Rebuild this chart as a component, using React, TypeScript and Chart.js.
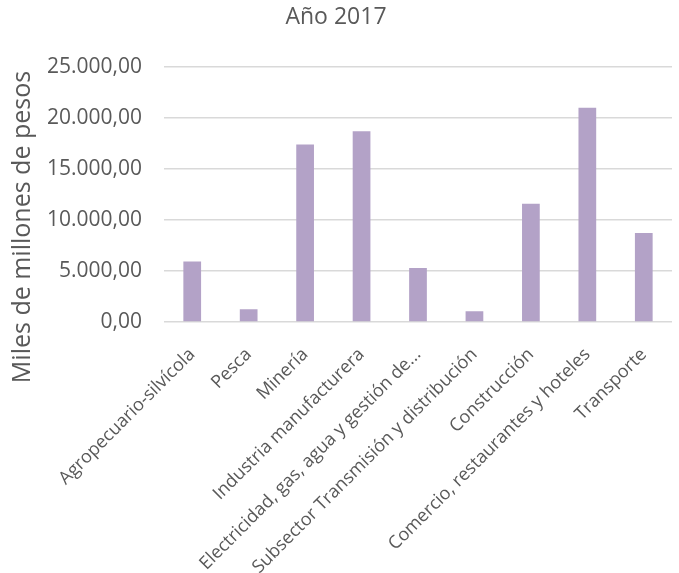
import React, { useEffect, useRef } from "react";
import { Chart, registerables } from "chart.js";

Chart.register(...registerables);

const chartTitle = "Año 2017";
const yAxisTitle = "Miles de millones de pesos";
const categories = [
  "Agropecuario-silvícola",
  "Pesca",
  "Minería",
  "Industria manufacturera",
  "Electricidad, gas, agua y gestión de...",
  "Subsector Transmisión y distribución",
  "Construcción",
  "Comercio, restaurantes y hoteles",
  "Transporte",
];
const values = [5930, 1240, 17370, 18680, 5280, 1050, 11570, 20970, 8720];
const yMin = 0;
const yMax = 25000;
const yStep = 5000;

const FONT = "'Open Sans', sans-serif";
const TEXT = "#595959";
const GRID = "#d9d9d9";
const BAR = "#b3a2c7";

function fmt(v: number): string {
  const s = Math.round(v)
    .toString()
    .replace(/\B(?=(\d{3})+(?!\d))/g, ".");
  return s + ",00";
}

const yTitlePlugin = {
  id: "yTitlePlugin",
  afterDraw(chart: any) {
    const ctx = chart.ctx;
    ctx.save();
    ctx.translate(23, 227);
    ctx.rotate(-Math.PI / 2);
    ctx.font = `25px ${FONT}`;
    ctx.fillStyle = TEXT;
    ctx.textAlign = "center";
    ctx.textBaseline = "middle";
    ctx.fillText(yAxisTitle, 0, 0);
    ctx.restore();
  },
};

export default function App() {
  const ref = useRef<HTMLCanvasElement | null>(null);
  useEffect(() => {
    if (!ref.current) return;
    const chart = new Chart(ref.current, {
      type: "bar",
      data: {
        labels: categories,
        datasets: [
          {
            data: values,
            backgroundColor: BAR,
            borderWidth: 0,
            barPercentage: 0.314,
            categoryPercentage: 1,
          },
        ],
      },
      options: {
        animation: false,
        responsive: false,
        layout: { padding: { left: 0, right: 7, top: 0, bottom: 0 } },
        plugins: {
          legend: { display: false },
          tooltip: { enabled: false },
          title: {
            display: true,
            text: chartTitle,
            color: TEXT,
            font: { family: FONT, size: 23, weight: "normal" },
            padding: { top: 4, bottom: 35 },
          },
        },
        scales: {
          x: {
            grid: { display: false },
            border: { display: false },
            ticks: {
              color: TEXT,
              font: { family: FONT, size: 18 },
              minRotation: 45,
              maxRotation: 45,
              autoSkip: false,
              padding: 14,
            },
            afterFit: (s: any) => {
              s.height = 251;
            },
          },
          y: {
            min: yMin,
            max: yMax,
            grid: { color: GRID, lineWidth: 1.4, drawTicks: false },
            border: { display: false },
            ticks: {
              stepSize: yStep,
              color: TEXT,
              font: { family: FONT, size: 21 },
              padding: 22,
              callback: (v: any) => fmt(Number(v)),
            },
            afterFit: (s: any) => {
              s.width = 164;
            },
          },
        },
      } as any,
      plugins: [yTitlePlugin],
    });
    return () => chart.destroy();
  }, []);
  return (
    <div style={{ position: "absolute", left: 0, top: 0, width: 679, height: 573, background: "#fff" }}>
      <canvas ref={ref} width={679} height={573} />
    </div>
  );
}
